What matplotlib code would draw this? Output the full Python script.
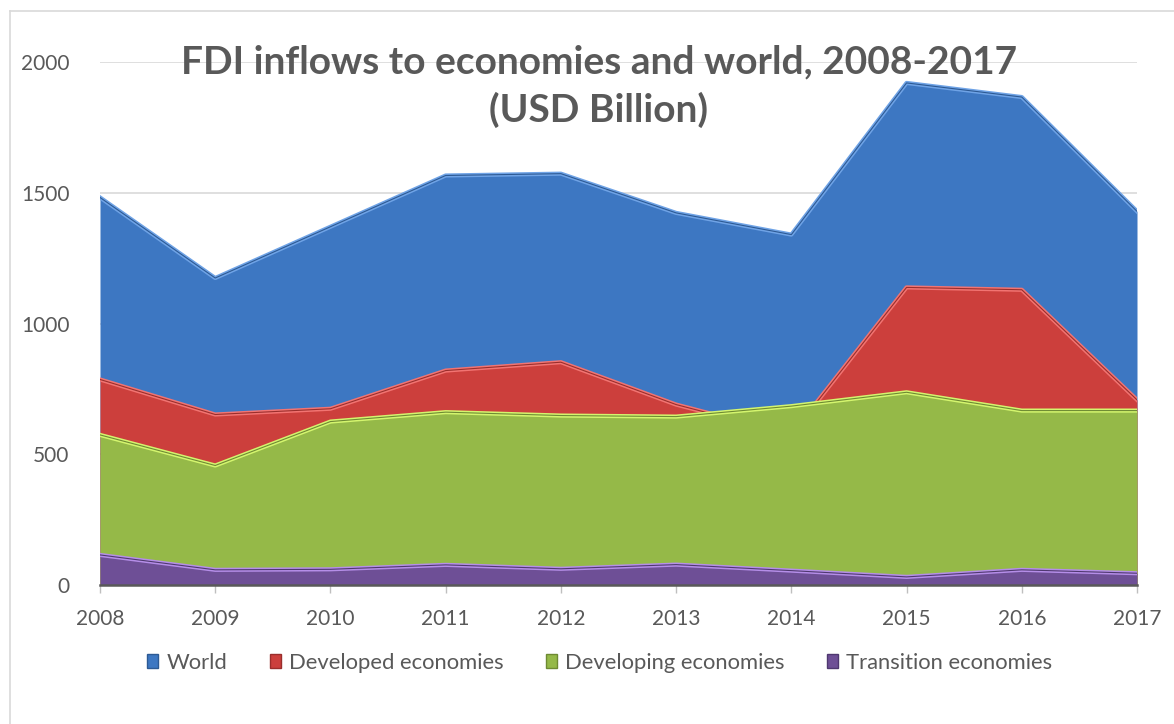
import numpy as np
import matplotlib
matplotlib.use("Agg")
import matplotlib.pyplot as plt
from matplotlib.lines import Line2D
from matplotlib.patches import Patch

years = [2008, 2009, 2010, 2011, 2012, 2013, 2014, 2015, 2016, 2017]
world = [1482, 1174, 1370, 1566, 1573, 1423, 1340, 1920, 1866, 1429]
developed = [786, 652, 674, 820, 852, 690, 575, 1138, 1129, 708]
developing = [574, 457, 625, 661, 648, 644, 684, 737, 667, 667]
transition = [115, 58, 60, 77, 62, 78, 55, 31, 58, 45]

series = ["World", "Developed economies", "Developing economies", "Transition economies"]
colors = ["#3D77C2", "#CC3F3C", "#95B948", "#6E4F96"]
highlights = ["#6FA3E6", "#F27472", "#D4F56E", "#B58EE8"]
edges = ["#2D5A94", "#9A2E2C", "#6E8A33", "#4F3870"]

plt.rcParams['font.family'] = ['Lato', 'DejaVu Sans']

fig = plt.figure(figsize=(11.74, 7.24), dpi=100)
ax = fig.add_axes([100/1174, 1-585/724, 1037/1174, 523/724])

data = [world, developed, developing, transition]
x = np.array(years)
for i, vals in enumerate(data):
    ax.fill_between(x, 0, vals, color=colors[i], zorder=2+i, linewidth=0)
    ax.plot(x, vals, color=highlights[i], lw=3.0, zorder=2+i, solid_joinstyle='round')
    ax.plot(x, vals, color=edges[i], lw=0.8, zorder=2+i)

ax.set_xlim(2008, 2017)
ax.set_ylim(0, 2000)
ax.set_yticks([0, 500, 1000, 1500, 2000])
ax.set_xticks(years)
ax.grid(axis='y', color='#D9D9D9', lw=1.2, zorder=0)
ax.set_axisbelow(True)
for s in ['top', 'right', 'left']:
    ax.spines[s].set_visible(False)
ax.spines['bottom'].set_color('#595959')
ax.spines['bottom'].set_linewidth(1.8)
ax.spines['bottom'].set_zorder(10)
ax.tick_params(axis='y', length=0, pad=22, labelsize=15, labelcolor='#595959')
ax.tick_params(axis='x', length=6, width=1, color='#BFBFBF', pad=11,
               labelsize=15, labelcolor='#595959')

fig.text(0.510, 0.938, "FDI inflows to economies and world, 2008-2017\n(USD Billion)",
         ha='center', va='top', fontsize=28, fontweight='bold', color='#595959',
         linespacing=1.4)

handles = [Patch(facecolor=colors[i], edgecolor=edges[i]) for i in range(4)]
fig.legend(handles, series, loc='center', bbox_to_anchor=(0.511, 1-663/724),
           ncol=4, frameon=False, fontsize=15.8, labelcolor='#595959',
           handlelength=0.5, handleheight=0.6, handletextpad=0.4, columnspacing=1.9)

fig.add_artist(Line2D([10/1174, 10/1174], [0, 1-11/724], color='#D9D9D9', lw=1.2))
fig.add_artist(Line2D([10/1174, 1], [1-11/724, 1-11/724], color='#D9D9D9', lw=1.2))

fig.savefig("out.png", dpi=100)
